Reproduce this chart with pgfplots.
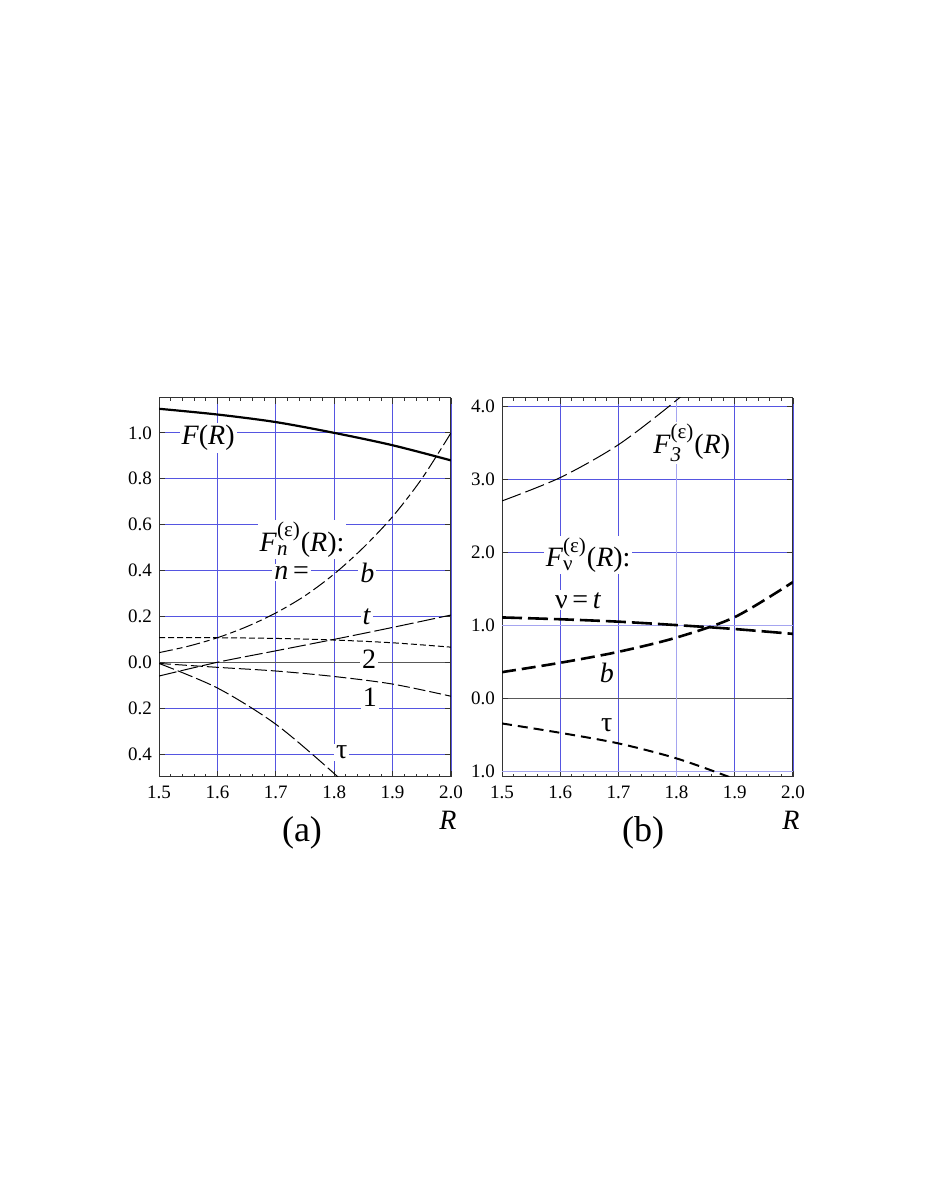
\documentclass[border=0pt]{standalone}
\usepackage{pgfplots}
\pgfplotsset{compat=1.18}
\usepackage{amsmath}
\usepackage{fontspec}
\setmainfont{Liberation Serif}
\definecolor{gridblue}{RGB}{85,85,225}
\definecolor{paleblue}{RGB}{165,165,240}
\newcommand{\sm}[1]{\text{\fontsize{10.5}{12}\selectfont #1}}

\pgfplotsset{
  panel/.style={
    width=146pt, height=189.5pt, scale only axis,
    anchor=south west,
    xmin=1.5, xmax=2.0,
    xtick={1.5,1.6,1.7,1.8,1.9,2.0},
    xticklabels={1.5,1.6,1.7,1.8,1.9,2.0},
    minor x tick num=4,
    grid=major,
    major grid style={gridblue, line width=0.45pt},
    tick align=inside, tick pos=both,
    major tick length=3pt, minor tick length=1.6pt,
    every tick/.style={black!80, line width=0.4pt},
    axis line style={black!80, line width=0.5pt},
    ticklabel style={font=\fontsize{9.5}{11}\selectfont},
    xticklabel style={yshift=-1pt},
    /pgf/number format/assume math mode=true,
    extra y ticks={0},
    extra y tick labels={0.0},
    extra y tick style={major grid style={black!65, line width=0.45pt}},
  },
}
\tikzset{lbl/.style={fill=white, inner sep=1pt, font=\fontsize{14}{16}\selectfont}}

\begin{document}
\begin{tikzpicture}
\useasboundingbox (0,0) rectangle (463pt,599.5pt);

% panel (a)
\begin{axis}[panel, at={(79.5pt,211pt)},
  ymin=-0.5, ymax=1.152,
  ytick={-0.4,-0.2,0.2,0.4,0.6,0.8,1.0},
  yticklabels={0.4,0.2,0.2,0.4,0.6,0.8,1.0},
  minor y tick num=3]
\addplot[black, line width=1.1pt, smooth] coordinates {
  (1.5,1.105) (1.6,1.08) (1.7,1.047) (1.8,1.0) (1.9,0.946) (2.0,0.88)};
\addplot[black, line width=0.5pt, smooth, dash pattern=on 7pt off 2pt on 3pt off 2pt] coordinates {
  (1.5,0.042) (1.55,0.07) (1.6,0.107) (1.65,0.155) (1.7,0.215) (1.75,0.29)
  (1.8,0.385) (1.85,0.5) (1.9,0.635) (1.95,0.8) (2.0,1.0)};
\addplot[black, line width=0.5pt, smooth, dash pattern=on 9pt off 2pt] coordinates {
  (1.5,-0.06) (1.6,0.0) (1.7,0.05) (1.8,0.1) (1.9,0.152) (2.0,0.206)};
\addplot[black, line width=0.5pt, smooth, dash pattern=on 3pt off 1.5pt] coordinates {
  (1.5,0.108) (1.6,0.107) (1.7,0.104) (1.8,0.097) (1.9,0.085) (2.0,0.066)};
\addplot[black, line width=0.5pt, smooth, dash pattern=on 6pt off 2pt] coordinates {
  (1.5,-0.005) (1.6,-0.022) (1.7,-0.038) (1.8,-0.062) (1.9,-0.095) (2.0,-0.148)};
\addplot[black, line width=0.5pt, smooth, dash pattern=on 8pt off 2pt] coordinates {
  (1.5,-0.005) (1.6,-0.112) (1.7,-0.27) (1.8,-0.485) (1.85,-0.61)};
\node[lbl] at (axis cs:1.584,0.978) {\textit{F}(\textit{R})};
\node[lbl] at (axis cs:1.745,0.535) {\textit{F}$^{\sm{(ε)}}_{\sm{\textit{n}}}$(\textit{R}):};
\node[lbl] at (axis cs:1.727,0.39) {\textit{n}\,=};
\node[lbl] at (axis cs:1.857,0.39) {\textit{b}};
\node[lbl] at (axis cs:1.856,0.2) {\textit{t}};
\node[lbl] at (axis cs:1.86,0.013) {2};
\node[lbl] at (axis cs:1.861,-0.153) {1};
\node[lbl] at (axis cs:1.813,-0.393) {τ};
\end{axis}

% panel (b)
\begin{axis}[panel, at={(251pt,211pt)}, width=145.5pt,
  ymin=-1.08, ymax=4.11,
  ytick={-1,1,2,3,4},
  yticklabels={1.0,1.0,2.0,3.0,4.0},
  minor y tick num=4]
\draw[paleblue, line width=0.6pt] (axis cs:1.5,1) -- (axis cs:2.0,1);
\draw[paleblue, line width=0.6pt] (axis cs:1.5,-1) -- (axis cs:2.0,-1);
\draw[paleblue, line width=0.6pt] (axis cs:1.8,-1.08) -- (axis cs:1.8,4.11);
\addplot[black, line width=0.5pt, smooth, dash pattern=on 10pt off 2.5pt] coordinates {
  (1.5,2.70) (1.6,3.02) (1.7,3.47) (1.8,4.08) (1.85,4.45)};
\addplot[black, line width=1.3pt, smooth, dash pattern=on 10pt off 3pt] coordinates {
  (1.5,1.105) (1.6,1.08) (1.7,1.047) (1.8,1.0) (1.9,0.946) (2.0,0.88)};
\addplot[black, line width=1.3pt, smooth, dash pattern=on 7pt off 3pt] coordinates {
  (1.5,0.356) (1.6,0.484) (1.7,0.634) (1.8,0.83) (1.9,1.11) (2.0,1.59)};
\addplot[black, line width=1pt, smooth, dash pattern=on 5pt off 3pt] coordinates {
  (1.5,-0.347) (1.6,-0.475) (1.7,-0.62) (1.8,-0.826) (1.9,-1.11) (1.95,-1.3)};
\node[lbl] at (axis cs:1.826,3.49) {\textit{F}$^{\sm{(ε)}}_{\sm{\textit{3}}}$(\textit{R})};
\node[lbl] at (axis cs:1.648,1.96) {\textit{F}$^{\sm{(ε)}}_{\sm{ν}}$(\textit{R}):};
\node[lbl] at (axis cs:1.631,1.34) {ν\,=\,\textit{t}};
\node[lbl] at (axis cs:1.68,0.34) {\textit{b}};
\node[lbl] at (axis cs:1.68,-0.37) {τ};
\end{axis}

\node[font=\fontsize{14}{16}\selectfont\itshape] at (224pt,189.5pt) {R};
\node[font=\fontsize{14}{16}\selectfont\itshape] at (395.5pt,189.5pt) {R};
\node[font=\fontsize{18}{20}\selectfont] at (151pt,183pt) {(a)};
\node[font=\fontsize{18}{20}\selectfont] at (321.5pt,183pt) {(b)};
\end{tikzpicture}
\end{document}
